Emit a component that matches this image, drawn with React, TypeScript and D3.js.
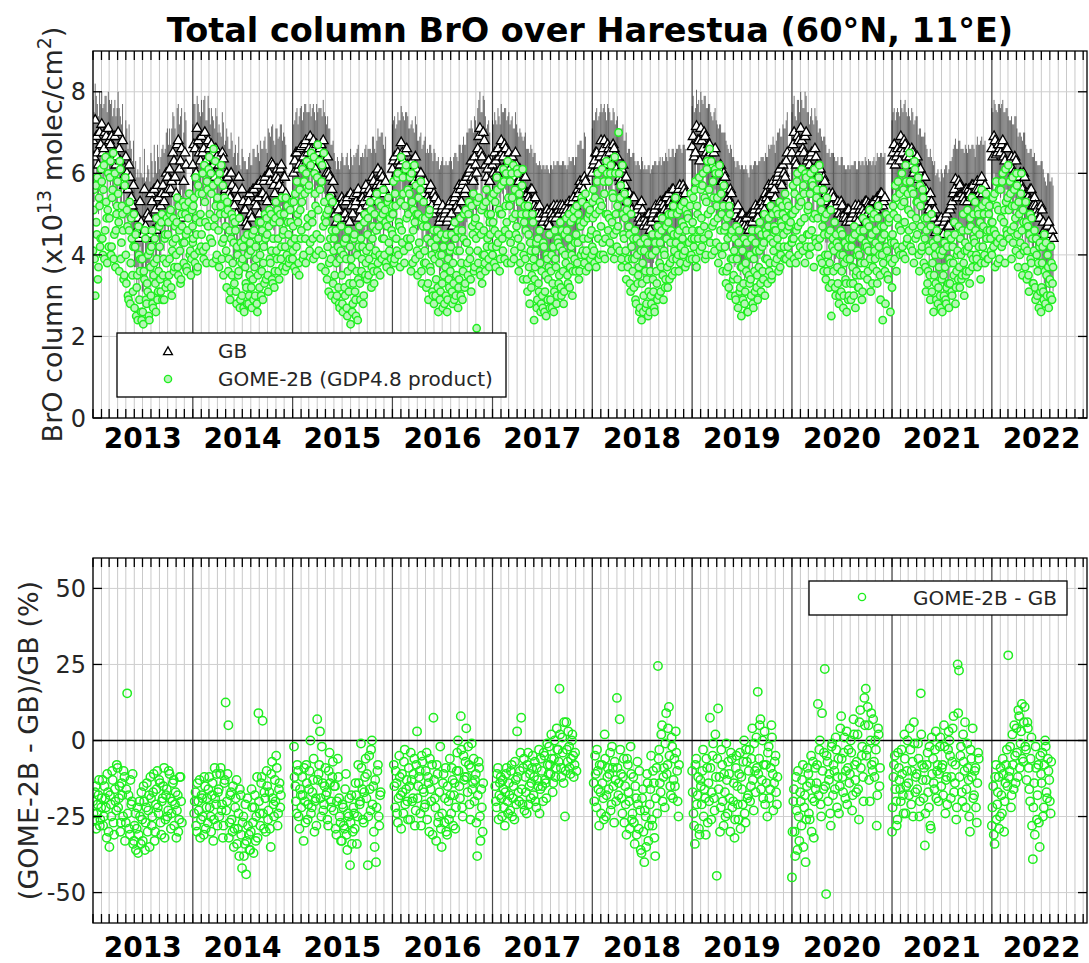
import React from 'react';
import * as d3 from 'd3';

// ---------- data ----------
const YEARS = [2013, 2014, 2015, 2016, 2017, 2018, 2019, 2020, 2021, 2022];
const X_START = new Date(2013, 0, 1);
const X_END = new Date(2022, 11, 15);
const TOP_Y_TICKS = [0, 2, 4, 6, 8];
const BOT_Y_TICKS = [-50, -25, 0, 25, 50];
const TITLE = 'Total column BrO over Harestua (60°N, 11°E)';

// GOME-2B total column (1e13 molec/cm2). Two interleaved passes per year:
// pass A every 4 days from 1 Jan, pass B every 4 days from 3 Jan.
const GOME_STEP_DAYS = 4;
const gome2013 = [4.1,5.6,3.0,4.8,5.9,3.7,5.2,4.4, 5.8,4.0,6.2,4.6,5.3,3.8,6.0, 4.9,6.3,4.2,5.6,3.9,6.0,4.6,5.2, 5.5,3.6,6.1,4.3,5.0,3.4,5.7, 4.0,5.1,3.0,4.6,2.8,4.9,3.5,4.2, 2.7,4.5,3.2,2.4,4.0,3.6,2.6, 3.9,2.3,3.4,4.4,2.8,3.1,2.5,4.1, 3.0,4.6,2.7,3.8,3.3,4.9,2.9,3.6, 4.2,3.1,5.0,3.5,2.9,4.5,3.8, 3.3,4.8,3.9,5.1,3.0,4.3,3.6,4.7, 4.0,5.4,3.5,4.6,3.3,5.0,4.3, 3.8,5.2,4.5,3.6,4.9,5.5,4.1,3.9,4.7];
const gome2014 = [4.3,5.4,3.8,4.9,3.6,5.7,4.1,5.0, 4.5,6.0,3.9,5.3,4.2,5.8,4.7, 6.4,4.4,5.5,3.8,6.6,4.9,5.2,4.0, 5.8,3.7,5.0,6.2,4.3,3.5,5.4, 4.7,3.2,5.1,3.9,2.9,4.4,3.5,4.9, 3.3,4.6,2.8,4.0,3.6,2.7,4.3, 3.0,4.2,2.6,3.7,3.2,4.5,2.8,3.5, 4.1,2.7,3.4,4.6,3.0,3.9,2.6,4.4, 3.2,4.8,3.6,2.9,4.2,5.0,3.4, 4.5,3.1,5.1,3.8,4.1,3.3,4.8,3.6, 5.3,3.9,4.4,3.4,5.0,4.2,3.7, 4.6,3.6,5.4,4.0,4.8,3.8,5.1,4.3,3.9];
const gome2015 = [3.9,5.3,4.4,3.6,5.8,4.8,3.5,5.1, 4.6,6.1,4.0,5.5,3.8,6.3,4.9, 5.7,4.3,6.5,4.8,3.9,6.0,5.2,4.5, 6.7,4.1,5.6,3.7,6.2,4.7,5.3, 3.6,5.0,4.2,3.1,5.4,3.9,4.6,3.3, 4.4,2.9,3.8,4.9,3.2,2.7,4.1, 3.5,2.6,4.3,3.0,3.9,2.5,4.6,3.3, 2.3,3.7,2.8,4.4,3.1,2.5,4.0,3.4, 4.7,2.9,3.6,4.2,3.0,5.0,3.8, 3.4,4.9,3.9,5.3,3.2,4.4,3.6,5.0, 4.1,5.5,3.8,4.7,3.5,5.2,4.4, 5.6,4.0,4.8,3.7,5.3,4.3,4.9,3.9,5.0];
const gome2016 = [4.5,5.8,3.9,5.2,4.1,6.0,4.8,3.7, 6.4,4.3,5.5,3.8,6.1,4.9,5.6, 4.2,5.9,3.6,5.3,4.6,6.2,3.9,5.0, 3.5,5.4,4.0,5.8,3.3,4.7,3.8, 4.9,3.2,4.4,2.9,5.1,3.6,4.0,3.0, 2.8,4.2,3.4,4.6,2.6,3.8,3.1, 4.0,2.7,3.5,4.4,3.0,2.6,3.9,3.2, 3.6,4.5,2.8,3.3,4.8,3.0,4.1,2.7, 3.4,4.9,3.8,2.9,4.4,3.2,5.1, 4.3,3.5,5.3,3.9,3.1,4.7,5.5,3.7, 4.9,2.2,4.1,5.4,3.6,4.5,3.3, 5.2,4.0,3.6,5.6,4.4,3.9,4.8,5.0,4.2];
const gome2017 = [4.0,5.5,4.6,3.7,5.9,4.3,5.1,3.9, 5.7,4.4,6.1,3.9,5.2,4.8,6.3, 4.5,5.8,3.8,5.4,6.2,4.1,5.0,4.7, 6.0,3.6,5.3,4.2,5.7,3.4,4.8, 3.9,5.0,3.1,4.5,2.8,4.1,3.5,4.8, 2.4,3.7,4.3,2.9,3.3,4.6,2.6, 3.6,2.7,4.2,3.1,2.5,3.9,3.4,4.5, 2.9,4.0,3.3,2.6,4.6,3.7,3.0,4.3, 3.5,4.8,3.0,4.1,2.8,4.5,3.8, 4.6,3.3,5.0,3.7,4.2,3.0,4.9,3.9, 3.6,5.2,4.3,3.4,4.8,4.0,5.3, 4.4,3.8,5.5,4.1,4.9,3.7,5.1,4.5,4.0];
const gome2018 = [4.2,5.6,3.8,5.0,4.5,6.0,3.9,5.3, 4.7,6.1,4.0,5.5,4.4,6.3,5.0, 5.8,4.3,6.2,4.8,5.4,3.9,6.0,4.6, 5.2,7.0,4.1,5.7,3.7,5.0,4.4, 4.9,3.4,5.3,3.9,4.5,3.1,4.2,3.6, 3.2,4.6,2.8,4.0,3.5,2.6,4.3, 2.4,3.8,3.0,4.4,2.7,3.4,2.5,4.0, 3.6,2.8,4.5,3.1,2.6,4.1,3.3,4.7, 3.0,4.3,3.7,4.9,2.9,4.0,3.4, 4.4,3.2,5.0,3.8,4.6,3.5,5.2,4.1, 5.4,3.9,4.5,3.6,5.1,4.2,4.8, 4.0,5.3,3.7,4.6,5.0,4.3,3.9,5.5,4.4];
const gome2019 = [3.9,5.4,4.4,5.8,3.7,5.0,4.6,4.1, 5.6,4.2,6.0,4.7,3.9,5.3,6.3, 4.5,6.6,5.1,4.0,5.8,4.8,6.1,4.3, 5.4,3.8,6.2,4.6,5.0,3.6,5.7, 4.2,3.3,4.9,3.7,5.2,3.0,4.5,3.9, 3.5,4.4,2.9,3.9,2.7,4.6,3.2, 2.5,4.1,3.3,2.8,3.8,4.3,2.6,3.5, 4.0,3.0,4.6,2.7,3.6,4.3,3.2,2.9, 3.7,4.8,3.1,4.2,3.4,5.0,3.9, 4.5,3.3,4.9,3.8,5.2,3.5,4.3,4.7, 3.8,5.1,4.4,3.6,5.3,4.0,4.7, 5.0,4.2,5.5,3.9,4.6,5.2,4.0,4.8,4.3];
const gome2020 = [4.3,5.7,3.9,5.1,4.6,6.0,4.0,5.4, 4.8,6.1,4.1,5.5,3.8,5.9,4.5, 5.2,4.0,6.0,4.6,5.7,3.7,5.0,4.3, 5.6,4.2,6.2,3.9,5.1,4.7,3.6, 4.9,3.4,5.4,4.0,3.2,4.6,2.5,4.2, 3.6,4.8,3.0,4.3,3.3,2.8,4.0, 3.1,4.5,2.7,3.8,3.4,2.6,4.2,3.0, 3.9,2.9,4.4,3.3,4.7,2.7,3.6,4.1, 3.2,4.6,3.8,2.9,4.9,3.5,4.2, 4.8,3.4,4.1,5.1,3.1,4.5,3.7,5.0, 3.9,4.6,3.3,5.2,4.0,2.9,4.4, 2.4,4.7,3.6,5.0,4.1,3.4,4.9,2.6,4.3];
const gome2021 = [3.8,5.2,4.3,5.7,3.6,4.9,4.1,5.5, 4.6,6.0,4.0,5.3,3.9,5.8,4.4, 5.1,6.5,4.2,5.6,4.7,3.8,6.1,4.9, 4.5,5.9,3.6,5.2,4.1,5.6,3.8, 4.4,3.1,4.9,3.6,4.1,2.9,5.0,3.8, 2.6,4.2,3.3,4.6,2.8,3.7,3.0, 4.0,2.6,3.5,4.3,2.9,3.2,4.5,2.7, 3.3,4.4,3.0,3.8,4.8,2.8,3.6,4.1, 4.7,3.2,4.0,3.5,5.0,3.0,4.3, 3.6,5.1,4.2,3.3,4.7,5.4,3.9,4.4, 5.3,4.0,3.7,5.0,4.5,3.4,5.6, 4.2,5.0,3.8,5.5,4.6,3.9,5.2,4.4,4.8];
const gome2022 = [4.0,5.4,4.6,3.7,5.8,4.3,5.1,3.9, 5.6,4.2,6.0,4.8,3.8,5.3,4.5, 6.2,4.4,5.5,3.9,5.9,4.7,5.2,4.1, 5.7,3.7,5.0,4.3,6.0,3.5,4.8, 4.2,5.3,3.4,4.7,3.1,5.0,3.8,4.4, 3.3,4.6,2.9,4.0,3.6,2.7,4.3, 2.6,3.8,3.1,4.5,2.8,3.5,4.0,2.7, 3.4,4.2,2.9,3.7];
const gome2013b = [5.1,3.9,5.7,4.5,3.4,5.4,4.2,6.1, 4.4,5.6,3.9,6.4,4.9,5.1,4.2, 5.9,4.0,5.4,6.5,4.5,3.7,5.0,5.8, 4.8,6.3,3.9,5.2,4.6,3.5,5.9, 3.3,4.7,2.9,5.3,3.8,4.4,3.1,5.0, 4.2,2.5,3.5,4.7,2.9,3.9,2.4, 2.6,3.6,4.6,2.9,3.3,4.0,2.4,3.7, 4.2,2.8,3.5,4.4,2.6,3.9,3.1,4.7, 3.4,4.8,2.9,3.9,4.4,3.2,4.9, 4.5,3.5,5.0,3.2,4.1,4.9,3.7,4.4, 4.8,3.7,5.2,4.1,3.4,4.7,5.3, 4.3,5.0,3.7,4.6,5.3,4.0,3.5,5.1,4.4];
const gome2014b = [5.2,4.0,5.9,4.5,3.7,5.5,4.8,4.2, 5.5,4.1,6.2,4.8,3.8,5.6,6.1, 5.0,6.0,4.3,5.7,4.7,6.3,3.9,5.4, 4.6,6.0,5.2,3.9,5.7,4.4,5.0, 4.1,5.3,3.6,4.6,3.1,5.0,3.8,4.3, 4.8,3.1,4.2,3.5,4.9,2.9,3.8, 3.9,2.7,4.4,3.3,2.8,4.0,3.0,4.3, 3.2,4.5,2.9,3.7,4.2,2.8,3.5,4.8, 4.0,3.0,4.6,3.8,3.3,4.4,4.9, 3.5,4.7,3.9,5.0,3.4,4.4,3.2,4.9, 4.1,5.1,3.6,4.8,3.9,5.4,4.5, 5.0,4.2,3.7,5.2,4.5,3.9,4.8,5.3,4.1];
const gome2015b = [4.7,3.7,5.5,4.2,5.0,3.8,5.6,4.4, 5.3,3.9,5.8,4.4,6.0,4.7,5.6, 4.1,6.2,5.0,4.4,6.4,5.5,4.0,5.9, 5.1,6.3,4.4,5.8,4.0,6.5,4.9, 4.8,3.4,5.1,3.8,4.4,3.0,5.3,4.1, 3.5,4.6,3.0,4.2,2.8,3.9,4.7, 2.8,4.0,3.2,4.4,2.7,3.6,3.1,4.2, 3.9,2.6,3.3,4.5,2.9,3.6,2.4,4.2, 3.3,4.4,3.9,2.8,4.8,3.5,4.1, 4.5,3.5,4.2,5.1,3.7,4.7,3.3,4.0, 4.6,3.6,5.3,4.0,4.9,3.9,5.0, 4.4,5.1,3.8,4.7,5.4,4.1,3.6,4.6,5.2];
const gome2016b = [5.0,3.8,5.5,4.4,5.9,4.0,4.7,5.3, 4.6,5.9,4.1,5.2,6.2,4.4,5.0, 5.5,4.4,6.0,3.8,5.1,4.8,5.7,4.1, 5.0,4.3,5.6,3.6,4.9,5.3,4.1, 3.8,4.7,3.3,5.0,3.7,4.3,3.1,4.6, 3.9,3.0,4.4,3.2,4.0,2.9,4.5, 3.3,4.2,2.8,3.7,4.5,2.9,3.4,4.1, 4.2,3.1,3.8,2.9,4.4,3.5,4.6,3.2, 4.1,3.0,4.6,3.6,5.0,3.3,4.3, 3.8,5.0,4.1,3.4,5.2,4.5,3.6,4.8, 4.4,5.3,3.8,4.7,3.5,5.1,4.0, 4.6,3.8,5.3,4.2,5.0,3.7,4.5,5.4,4.0];
const gome2017b = [4.8,3.8,5.3,4.2,5.6,4.5,3.6,5.0, 5.0,4.1,5.8,4.6,6.0,3.8,5.4, 5.2,4.3,6.0,4.9,3.9,5.6,4.5,6.1, 4.4,5.5,3.8,5.0,6.1,4.0,5.2, 4.6,3.4,5.2,3.7,4.3,3.2,5.0,3.9, 3.4,4.1,2.7,4.4,3.1,3.8,2.8, 3.0,4.3,2.6,3.5,4.0,2.9,3.7,2.7, 3.6,2.7,4.2,3.1,3.9,2.8,4.4,3.3, 4.2,3.2,4.6,3.6,3.1,4.0,4.9, 3.5,4.4,3.2,4.8,4.0,3.6,5.1,4.3, 4.5,3.8,5.0,3.6,4.7,5.4,4.1, 4.8,4.0,3.6,5.2,4.4,5.0,3.9,4.6,5.3];
const gome2018b = [4.9,4.1,5.4,3.7,5.8,4.4,5.1,4.0, 5.2,4.3,5.8,3.9,5.0,6.0,4.6, 4.9,6.0,4.1,5.5,4.5,6.4,5.0,4.2, 4.7,6.0,5.4,3.9,6.2,4.5,5.5, 4.1,5.1,3.7,4.7,3.3,5.0,3.9,4.4, 3.9,2.9,4.4,3.3,3.7,2.7,4.1, 3.3,2.6,4.1,3.6,2.8,4.3,3.1,2.6, 3.0,4.0,3.4,2.7,4.3,3.6,2.9,4.5, 3.8,3.1,4.6,3.5,4.1,3.2,4.7, 3.7,4.8,3.4,4.3,5.0,3.9,4.5,3.6, 4.3,5.0,4.0,4.6,3.8,5.2,4.4, 4.7,4.1,5.1,3.8,4.9,4.3,5.2,4.0,4.6];
const gome2019b = [4.8,4.2,5.6,3.9,5.2,4.4,5.9,4.6, 4.9,5.7,4.4,5.4,4.0,6.1,5.0, 5.6,4.3,6.3,4.7,5.4,4.1,6.0,5.2, 4.9,6.0,4.2,5.5,4.0,5.2,4.6, 4.7,3.6,4.4,3.2,5.0,3.9,4.6,3.4, 4.1,3.0,4.7,3.4,4.3,3.1,3.7, 3.7,2.9,4.4,3.1,3.6,2.6,4.0,3.3, 3.4,4.4,2.8,3.9,3.1,4.1,3.5,4.6, 4.1,3.3,4.5,3.6,4.3,3.0,4.6, 3.9,4.7,3.6,4.4,3.4,5.0,4.1,4.6, 4.6,3.9,5.0,4.2,3.7,4.8,5.2, 4.5,3.9,4.9,5.3,4.2,4.7,3.8,5.0,4.4];
const gome2020b = [5.0,4.4,5.5,3.8,5.8,4.7,5.2,4.2, 5.3,4.4,5.7,4.9,6.0,4.2,5.1, 4.5,5.5,4.2,5.8,4.9,6.1,4.4,5.4, 4.9,5.9,4.4,5.3,3.8,5.6,4.5, 4.0,5.0,3.6,4.5,3.8,5.1,3.3,4.4, 4.1,3.2,4.5,3.7,4.2,3.0,4.6, 3.6,4.0,3.0,4.3,3.3,3.9,2.9,4.4, 3.3,4.2,3.7,3.0,4.5,3.5,4.0,3.2, 4.0,3.5,4.4,3.1,4.6,3.8,4.3, 4.2,3.6,4.7,3.9,4.4,3.3,4.9,4.1, 4.3,3.6,4.9,4.2,3.5,4.7,4.0, 3.8,4.5,2.8,4.2,3.5,4.8,3.9,4.4,3.2];
const gome2021b = [4.5,5.0,3.9,5.4,4.2,5.8,4.7,4.0, 5.2,4.2,5.6,4.8,6.2,4.3,5.5, 4.6,5.8,5.0,4.1,5.5,6.3,4.4,5.3, 5.3,4.0,5.7,4.7,4.2,5.4,4.9, 3.7,4.6,3.3,4.2,3.5,4.7,3.1,4.3, 3.5,4.0,2.9,4.4,3.2,4.1,2.7, 3.4,4.1,3.0,3.7,2.8,4.2,3.3,3.9, 3.8,3.1,4.2,3.5,4.5,3.2,4.0,3.4, 3.7,4.4,3.4,4.6,3.8,4.1,3.5, 4.1,4.6,3.6,4.9,4.0,3.7,5.0,4.3, 4.6,3.9,5.1,4.2,4.8,3.8,5.2, 4.7,4.0,5.3,4.4,3.9,5.0,4.6,4.1,5.4];
const gome2022b = [4.8,4.2,5.5,4.5,5.2,3.8,5.6,4.4, 4.9,5.8,4.3,5.1,6.1,4.6,5.4, 5.1,5.8,4.6,5.2,4.3,5.6,4.9,6.0, 4.5,5.3,4.0,5.5,4.6,5.1,4.1, 3.7,4.8,4.1,3.5,4.5,3.9,4.9,3.3, 4.1,3.2,4.4,3.0,3.8,4.2,3.1, 3.2,4.2,2.9,3.6,4.3,3.0,3.7,3.3, 3.0,3.8,3.3];
const GOME_A = [gome2013, gome2014, gome2015, gome2016, gome2017, gome2018, gome2019, gome2020, gome2021, gome2022];
const GOME_B = [gome2013b, gome2014b, gome2015b, gome2016b, gome2017b, gome2018b, gome2019b, gome2020b, gome2021b, gome2022b];

// Ground-based (GB) total column [value, error]; pass A every 8 days from 1 Jan, pass B from 5 Jan
const GB_STEP_DAYS = 8;
const gb2013 = [[6.8,1.0],[7.3,0.9],[6.5,1.2],[7.0,1.0],[7.2,0.8],[6.6,1.1],[6.9,1.0],[7.1,0.9],[6.7,1.0],[6.3,1.1],[6.9,0.9],[6.4,1.2],[6.6,1.0],[6.1,1.1],[5.9,1.0],[6.4,0.9],[5.6,1.0],[5.9,0.9],[5.2,1.1],[4.9,1.2],[4.6,1.3],[4.4,1.5],[4.8,1.2],[4.5,1.4],[4.7,1.1],[5.0,1.2],[4.5,1.3],[5.3,1.0],[5.6,1.1],[4.6,1.4],[5.4,1.0],[5.2,1.2],[5.7,1.0],[5.5,1.1],[5.9,1.2],[6.1,1.0],[5.8,1.3],[6.3,1.1],[5.5,1.2],[6.8,0.9],[6.3,1.1],[4.9,1.3],[6.5,1.0],null,null,null];
const gb2014 = [[6.2,1.0],[6.6,1.1],[7.1,0.8],[6.5,1.0],[6.9,0.9],[6.6,1.2],[6.3,1.0],[6.8,1.1],[6.1,1.1],[6.5,0.9],[5.9,1.2],[6.4,1.0],[6.2,1.0],[5.8,1.1],[6.35,0.9],[5.6,1.2],[5.9,1.0],[5.4,1.2],[5.7,1.1],[5.2,1.3],[5.0,1.2],[5.9,1.0],[4.8,1.3],[5.3,1.1],[5.1,1.2],[4.7,1.4],[5.5,1.0],[4.9,1.3],[5.6,1.0],[5.2,1.2],[5.4,1.1],[5.8,1.0],[5.5,1.1],[5.9,1.0],[5.3,1.2],[6.0,1.0],[6.25,0.9],[5.7,1.1],[5.9,1.2],[5.85,1.0],[6.1,1.1],[5.6,1.2],[5.9,1.0],null,null,null];
const gb2015 = [null,[6.3,1.0],[6.5,1.1],[6.2,1.2],[6.65,1.0],[6.4,1.1],[6.8,0.9],[6.5,1.0],[6.9,0.8],[6.6,1.0],[6.3,1.2],[6.7,1.0],[6.5,1.1],[6.7,0.9],[6.8,1.0],[6.2,1.2],[6.4,1.0],[5.9,1.2],[5.6,1.1],[5.3,1.2],[4.8,1.3],[5.1,1.2],[4.9,1.4],[5.3,1.1],[5.0,1.2],[5.4,1.1],[4.8,1.3],[5.2,1.2],[5.45,1.0],[5.3,1.2],[5.6,1.1],[5.1,1.3],[5.4,1.1],[5.6,1.0],[5.2,1.2],[5.6,1.0],[5.3,1.2],[5.8,1.1],[5.5,1.0],[6.1,1.0],[5.7,1.2],[5.9,1.1],[5.6,1.0],null,null,null];
const gb2016 = [[6.1,1.1],[6.4,1.0],[6.0,1.2],[6.3,1.0],[6.75,0.9],[6.3,1.1],[6.5,1.0],[6.2,1.2],[6.0,1.1],[6.3,1.0],[5.8,1.2],[6.1,1.1],[5.7,1.1],[6.0,1.0],[5.5,1.2],[5.8,1.1],[5.4,1.2],[5.6,1.1],[5.2,1.3],[5.5,1.1],[5.1,1.2],[5.3,1.1],[4.9,1.3],[5.2,1.2],[5.0,1.2],[4.8,1.4],[5.2,1.1],[5.0,1.3],[5.3,1.1],[5.5,1.0],[5.1,1.2],[5.6,1.1],[5.7,1.0],[5.5,1.2],[5.9,1.1],[6.0,1.1],[6.3,1.0],[5.8,1.2],[6.2,1.1],[6.6,1.0],[7.1,0.9],[6.4,1.1],[6.8,1.0],[5.9,1.2],[6.3,1.0],null];
const gb2017 = [[6.2,1.1],[6.5,1.0],[6.0,1.2],[6.4,1.0],[6.8,0.9],[6.4,1.1],[6.6,1.0],[6.3,1.1],[6.1,1.1],[6.4,1.0],[5.9,1.2],[6.2,1.0],[5.8,1.1],[6.0,1.0],[5.6,1.2],[5.9,1.1],[5.5,1.1],[5.3,1.2],[5.6,1.0],[5.2,1.3],[5.15,1.1],[4.9,1.3],[5.0,1.2],[4.8,1.4],[4.9,1.2],[5.1,1.1],[4.7,1.3],[5.0,1.2],[5.2,1.1],[4.9,1.3],[5.1,1.2],[5.2,1.0],[5.2,1.1],[5.0,1.2],[5.1,1.0],[5.3,1.1],[5.0,1.3],[5.4,1.0],[5.2,1.2],[5.6,1.1],[5.8,1.0],[5.4,1.2],[5.9,1.1],null,null,null];
const gb2018 = [[6.0,1.1],[6.3,1.0],[6.5,1.1],[6.2,1.2],[6.8,0.9],[6.6,1.0],[6.4,1.1],[6.7,1.0],[6.5,1.0],[6.2,1.1],[6.6,0.9],[6.1,1.2],[6.0,1.1],[5.8,1.2],[6.2,1.0],[5.7,1.1],[5.3,1.2],[5.5,1.1],[5.1,1.3],[5.4,1.1],[5.0,1.2],[5.2,1.1],[4.8,1.3],[5.1,1.2],[4.9,1.3],[4.7,1.4],[5.0,1.2],[4.8,1.3],[5.0,1.2],[5.2,1.1],[4.9,1.3],[5.3,1.1],[5.3,1.1],[5.1,1.2],[5.4,1.0],[5.5,1.1],[5.2,1.2],[5.6,1.0],[5.4,1.1],[5.5,1.1],[5.7,1.0],[5.3,1.2],[5.6,1.1],null,null,null];
const gb2019 = [[6.65,1.0],[6.4,1.1],[7.15,0.9],[6.8,1.0],[7.1,0.9],[6.6,1.1],[6.9,1.0],[6.4,1.2],[6.7,1.0],[6.3,1.1],[6.5,1.0],[6.1,1.2],[6.0,1.1],[6.2,1.0],[5.8,1.2],[5.9,1.1],[5.6,1.1],[5.3,1.2],[5.5,1.1],[5.1,1.3],[4.95,1.2],[5.2,1.1],[4.8,1.3],[5.0,1.2],[4.7,1.4],[4.9,1.2],[4.6,1.3],[5.0,1.2],[5.0,1.2],[5.2,1.1],[4.9,1.3],[5.1,1.2],[5.3,1.1],[5.1,1.2],[5.4,1.0],[5.7,1.0],[5.5,1.2],[5.8,1.1],[5.4,1.1],[5.9,1.1],[6.1,1.0],[5.7,1.2],[6.0,1.1],[6.3,1.0],null,null];
const gb2020 = [[6.5,1.0],[7.0,0.9],[6.2,1.1],[6.8,1.0],[7.1,0.9],[6.6,1.0],[6.9,1.1],[6.3,1.2],[6.2,1.0],[6.5,1.1],[6.0,1.2],[6.4,1.0],[5.9,1.1],[6.1,1.0],[5.6,1.2],[5.8,1.1],[5.3,1.2],[5.5,1.1],[5.2,1.3],[5.4,1.1],[5.1,1.2],[5.3,1.1],[4.9,1.3],[5.2,1.2],[5.0,1.2],[4.8,1.3],[5.1,1.1],[4.9,1.3],[5.0,1.2],[5.2,1.1],[4.8,1.3],[5.1,1.2],[5.2,1.1],[5.0,1.2],[5.3,1.0],[5.25,1.1],[5.1,1.2],[5.3,1.0],[5.0,1.2],[5.4,1.1],[5.2,1.2],[5.5,1.0],[5.3,1.1],null,null,null];
const gb2021 = [[6.3,1.0],[6.7,0.9],[6.4,1.1],[6.5,1.0],[6.9,0.9],[6.5,1.0],[6.7,1.1],[6.2,1.2],[6.4,1.0],[6.6,1.0],[6.0,1.2],[6.3,1.1],[5.85,1.1],[6.1,1.0],[5.7,1.2],[5.9,1.1],[5.4,1.2],[5.1,1.3],[5.3,1.1],[4.9,1.3],[4.55,1.4],[4.8,1.3],[4.6,1.2],[4.7,1.3],[4.8,1.3],[5.0,1.2],[4.7,1.4],[5.2,1.1],[5.5,1.1],[5.85,1.0],[5.4,1.2],[5.7,1.1],[5.5,1.1],[5.3,1.2],[5.6,1.0],[5.6,1.1],[5.4,1.2],[5.7,1.0],[5.3,1.1],[5.8,1.1],[5.5,1.2],[5.9,1.0],[5.6,1.1],null,null,null];
const gb2022 = [[6.6,1.0],[6.9,0.9],[6.45,1.1],[6.7,1.0],[6.5,1.1],[6.8,1.0],[6.3,1.2],[6.6,1.0],[6.2,1.1],[6.4,1.0],[6.0,1.2],[6.3,1.1],[5.8,1.1],[6.0,1.0],[5.6,1.2],[5.9,1.1],[5.5,1.1],[5.3,1.2],[5.6,1.0],[5.2,1.2],[5.2,1.1],[5.0,1.2],[4.9,1.3],[5.1,1.2],[4.6,1.3],[4.3,1.4],[4.8,1.2],[4.5,1.3],[4.4,1.3]];
const gb2013b = [[6.4,1.1],[6.9,1.0],[6.2,1.2],[6.7,1.0],[6.5,1.1],[7.0,0.9],[6.3,1.2],[6.8,1.0],[6.9,0.9],[6.5,1.1],[6.2,1.2],[7.0,1.0],[6.3,1.1],[6.8,0.9],[5.7,1.2],[6.0,1.1],[6.2,1.0],[5.4,1.2],[5.7,1.1],[5.0,1.3],[4.9,1.2],[5.3,1.1],[4.5,1.4],[5.6,1.0],[4.4,1.5],[4.9,1.2],[5.5,1.0],[4.6,1.3],[5.1,1.2],[5.7,1.0],[4.8,1.3],[5.5,1.1],[5.3,1.2],[6.0,1.0],[5.6,1.1],[5.6,1.1],[6.5,1.0],[5.9,1.2],[6.7,0.9],[6.1,1.1],[6.6,1.0],[5.8,1.2],[6.2,1.1],null,null,null];
const gb2014b = [[6.7,1.0],[6.0,1.2],[6.8,0.9],[6.3,1.1],[6.5,1.0],[7.0,0.9],[6.1,1.2],[6.6,1.0],[6.7,0.9],[6.2,1.1],[6.6,1.0],[5.8,1.2],[5.9,1.1],[6.5,1.0],[5.5,1.2],[6.0,1.1],[5.5,1.1],[6.0,1.0],[5.1,1.3],[5.6,1.1],[5.4,1.1],[4.9,1.3],[5.6,1.0],[5.1,1.2],[4.8,1.3],[5.3,1.1],[5.0,1.2],[5.6,1.0],[5.3,1.1],[5.7,1.0],[5.0,1.3],[5.5,1.1],[5.8,1.0],[5.4,1.2],[6.0,1.1],[5.8,1.1],[6.2,1.0],[5.5,1.2],[6.1,1.0],[5.7,1.2],[6.2,1.0],[5.9,1.1],[5.5,1.2],null,null,null];
const gb2015b = [[6.0,1.2],[6.5,1.0],[6.1,1.1],[6.6,1.0],[6.2,1.1],[6.7,1.0],[6.3,1.2],[6.6,0.9],[6.4,1.0],[6.8,0.9],[6.1,1.2],[6.5,1.0],[6.6,1.0],[6.3,1.1],[6.5,1.0],[6.0,1.2],[6.0,1.1],[5.5,1.2],[5.8,1.0],[5.0,1.3],[5.2,1.2],[4.7,1.4],[5.4,1.1],[5.0,1.2],[5.3,1.1],[4.9,1.3],[5.5,1.1],[5.0,1.2],[5.2,1.2],[5.5,1.1],[4.9,1.3],[5.4,1.0],[5.3,1.1],[5.7,1.0],[5.4,1.2],[5.5,1.1],[5.9,1.0],[5.4,1.2],[5.7,1.1],[5.8,1.1],[6.0,1.0],[5.5,1.2],[5.8,1.1],null,null,null];
const gb2016b = [[6.3,1.0],[5.9,1.2],[6.5,1.0],[6.2,1.1],[6.5,1.0],[6.1,1.2],[6.6,0.9],[6.0,1.1],[6.2,1.0],[5.9,1.2],[6.4,1.0],[5.7,1.1],[5.9,1.0],[5.4,1.2],[5.7,1.1],[5.3,1.2],[5.3,1.2],[5.7,1.0],[5.0,1.3],[5.4,1.1],[5.2,1.1],[4.8,1.3],[5.1,1.2],[4.9,1.3],[5.1,1.2],[4.9,1.3],[5.3,1.1],[4.7,1.4],[5.4,1.1],[5.2,1.2],[5.7,1.0],[5.3,1.2],[5.8,1.1],[5.6,1.1],[6.0,1.0],[6.1,1.0],[5.9,1.2],[6.4,1.0],[6.0,1.1],[6.9,0.9],[6.5,1.0],[7.0,0.9],[6.2,1.2],[6.1,1.1],[5.8,1.2],null];
const gb2017b = [[6.0,1.2],[6.3,1.0],[6.6,1.0],[6.1,1.1],[6.5,1.0],[6.7,0.9],[6.2,1.1],[6.5,1.0],[6.3,1.0],[6.0,1.1],[6.5,1.0],[5.8,1.2],[6.1,1.0],[5.7,1.2],[5.9,1.0],[5.5,1.1],[5.4,1.2],[5.6,1.1],[5.1,1.3],[5.4,1.1],[5.0,1.2],[5.2,1.1],[4.7,1.4],[5.0,1.2],[5.0,1.2],[4.8,1.3],[5.1,1.1],[4.9,1.2],[5.0,1.2],[5.2,1.1],[5.0,1.2],[5.1,1.1],[5.1,1.2],[5.2,1.0],[4.9,1.3],[5.1,1.2],[5.3,1.1],[5.0,1.2],[5.4,1.0],[5.5,1.2],[5.7,1.1],[5.6,1.0],[5.8,1.1],null,null,null];
const gb2018b = [[6.2,1.1],[6.5,1.0],[6.1,1.2],[6.4,1.1],[6.5,1.0],[6.8,0.9],[6.2,1.1],[6.6,1.0],[6.3,1.0],[6.7,0.9],[6.0,1.2],[6.4,1.0],[5.9,1.1],[6.1,1.0],[5.6,1.2],[5.9,1.1],[5.5,1.1],[5.2,1.2],[5.4,1.1],[5.0,1.3],[5.1,1.2],[4.9,1.3],[5.3,1.1],[4.7,1.4],[4.8,1.3],[5.0,1.2],[4.6,1.4],[4.9,1.3],[5.1,1.2],[4.9,1.3],[5.2,1.1],[5.0,1.2],[5.2,1.1],[5.4,1.1],[5.1,1.2],[5.3,1.1],[5.6,1.0],[5.2,1.2],[5.5,1.1],[5.6,1.1],[5.4,1.2],[5.7,1.0],[5.5,1.1],null,null,null];
const gb2019b = [[6.9,1.0],[6.5,1.1],[6.8,0.9],[6.3,1.2],[6.8,1.0],[7.0,0.9],[6.5,1.1],[6.7,1.0],[6.5,1.0],[6.2,1.1],[6.6,1.0],[6.0,1.2],[6.1,1.1],[5.8,1.2],[6.0,1.0],[5.6,1.2],[5.4,1.2],[5.6,1.1],[5.2,1.2],[5.0,1.3],[5.1,1.2],[4.9,1.3],[5.0,1.2],[4.8,1.3],[4.9,1.3],[4.7,1.3],[5.0,1.2],[4.8,1.3],[5.1,1.2],[4.9,1.3],[5.2,1.1],[5.3,1.1],[5.2,1.2],[5.5,1.0],[5.3,1.1],[5.5,1.1],[5.7,1.0],[5.6,1.1],[5.8,1.0],[6.0,1.0],[5.8,1.1],[6.2,1.0],[5.9,1.2],[6.5,1.0],null,null];
const gb2020b = [[6.7,1.0],[6.3,1.1],[6.9,0.9],[6.5,1.0],[6.8,1.0],[6.5,1.1],[7.0,0.9],[6.4,1.1],[6.4,1.0],[6.1,1.2],[6.6,1.0],[6.2,1.1],[6.0,1.1],[5.7,1.2],[5.9,1.0],[5.5,1.2],[5.4,1.1],[5.2,1.2],[5.5,1.0],[5.1,1.3],[5.2,1.1],[5.0,1.2],[5.3,1.1],[4.9,1.3],[4.9,1.2],[5.1,1.1],[4.8,1.3],[5.0,1.2],[5.1,1.2],[4.9,1.2],[5.2,1.1],[5.0,1.2],[5.1,1.2],[5.3,1.1],[5.0,1.2],[5.2,1.1],[5.0,1.2],[5.3,1.1],[5.1,1.2],[5.3,1.1],[5.5,1.0],[5.2,1.2],[5.4,1.1],null,null,null];
const gb2021b = [[6.5,1.0],[6.2,1.1],[6.6,1.0],[6.3,1.1],[6.6,1.0],[6.8,0.9],[6.4,1.1],[6.6,1.0],[6.2,1.1],[6.5,1.0],[6.1,1.2],[6.4,1.0],[6.0,1.1],[5.7,1.2],[5.9,1.0],[5.6,1.1],[5.2,1.2],[5.5,1.1],[5.0,1.3],[5.1,1.2],[4.7,1.3],[4.6,1.3],[4.9,1.2],[4.5,1.4],[4.9,1.3],[4.7,1.3],[5.1,1.2],[5.3,1.1],[5.6,1.1],[5.4,1.2],[5.8,1.0],[5.5,1.1],[5.4,1.2],[5.6,1.1],[5.3,1.2],[5.5,1.1],[5.7,1.0],[5.4,1.2],[5.6,1.1],[5.6,1.1],[5.8,1.0],[5.5,1.2],[5.7,1.1],null,null,null];
const gb2022b = [[6.4,1.1],[6.8,0.9],[6.5,1.0],[6.6,1.1],[6.7,1.0],[6.4,1.1],[6.6,1.0],[6.2,1.2],[6.3,1.0],[6.1,1.1],[6.4,1.0],[5.9,1.2],[5.9,1.1],[5.7,1.2],[6.0,1.0],[5.5,1.2],[5.4,1.1],[5.6,1.0],[5.2,1.2],[5.4,1.1],[5.1,1.2],[4.9,1.3],[5.2,1.1],[4.8,1.3],[4.5,1.3],[4.7,1.3],[4.4,1.4],[4.6,1.3]];
const GB_A = [gb2013, gb2014, gb2015, gb2016, gb2017, gb2018, gb2019, gb2020, gb2021, gb2022];
const GB_B = [gb2013b, gb2014b, gb2015b, gb2016b, gb2017b, gb2018b, gb2019b, gb2020b, gb2021b, gb2022b];

// Relative difference (GOME-2B - GB)/GB in %; pass A every 5 days from 1 Jan, pass B from 3 Jan
const DIFF_STEP_DAYS = 5;
const diff2013 = [-20,-26,-15,-24,-18,-28,-22, -13,-25,-19,-32,-17, -35,-21,-10,-27,-16,-23, -9,-19,-30,-14,-25,-12, -27,15.5,-18,-31,-21,-11, -33,-24,-29,-37,-20,-34, -26,-15,-36,-22,-30,-18, -12,-28,-17,-33,-21,-10, -24,-14,-31,-19,-9,-26, -16,-23,-11,-29,-20,-13, -21,-32,-18,-26,-12,-27];
const diff2014 = [null,-24,-17,-30,-20,-13,-26, -19,-31,-15,-22,-27, -12,-25,-18,-33,-9,-21, -28,-16,-11,-23,-32,-14, 12.5,-20,5,-27,-17,-30, -35,-22,-13,-29,-38,-18, -42,-25,-34,-44,-19,-31, -36,-16,-27,-22,-33,-12, 9,-24,-14,6.5,-29,-19, -10,-26,-17,-35,-7,-21, -13,-5,-28,-16,-22];
const diff2015 = [null,-2,-15,-24,-10,-29,-18, -12,-33,-20,-8,-26, -16,0,-22,-13,-30,-19, 7,-11,3,-25,-14,-21, -9,-17,-28,-4,-20,-12, -23,-15,-31,-6,-19,-27, -33,-22,-29,-11,-36,-25, -41,-18,-30,-24,-14,-34, -8,-21,-1,-16,-27,-12, -19,-41,-5,-23,0,-15, -35,-40,-10,-25,-18];
const diff2016 = [null,-8,-22,-14,-27,-5,-18, -11,-24,-3,-16,-20, -9,-26,-13,-19,-6,-23, 3,-15,-10,-28,-7,-17, -21,-4,-12,-30,-16,-8, 7.5,-19,-33,-11,-25,-2, -35,-14,-27,-9,-31,-20, -6,-24,-13,-18,-29,-10, 0,-15,8,-22,-5,-12, 4,-17,-8,-26,-1,-14, -20,-11,-38,-7,-25,-16, -30];
const diff2017 = [null,null,-15,-22,-9,-18,-12, -25,-16,-28,-11,-20, -14,-23,-8,-19,-26,-13, 3,-17,-10,7.5,-21,-6, -12,-24,-4,-15,-19,-9, -18,-7,-22,-13,-3,-16, -10,-20,-5,-14,-1,-11, -8,2,-17,-6,-12,4, -3,17,-9,1,-14,-25, 6,-7,-2,-11,0,-5, -8];
const diff2018 = [null,-14,-5,-22,-10,-28,-17, -8,-19,2,-25,-12, -16,-4,-21,-9,-27,-13, 14,-18,7,-11,-24,-6, -15,-31,-8,-20,-2,-26, -12,-34,-19,-7,-29,-23, -37,-16,-40,-25,-11,-33, -21,-5,-28,-14,-38,-9, 24.5,-3,-17,5,-12,-22, 9,-8,11,-15,1,-19, -6,3,-10,-25];
const diff2019 = [-10,-24,-34,-6,-18,-29,-13, -21,-3,-16,-31,-9, -14,7.5,-26,-5,-19,2, -44.5,10.5,-12,-22,-8,-28, -17,-1,-24,-11,-30,-6, -20,-32,-9,-15,-26,-4, -12,-21,0,-27,-7,-18, -3,-15,4,-23,-10,1, 16,-6,7,-13,-19,3, -8,-25,-2,-16,5,-11, -14,-5,-21];
const diff2020 = [-45,-20,-30,-12,-36,-25,-17, -28,-8,-22,-40,-15, -11,-26,-5,-19,-32,-9, -14,12,-3,-21,9,-16, 23.5,-50.5,-7,-13,-24,-2, -18,-10,1,-22,-6,-15, 8,-12,-4,-19,3,-9, -14,0,-23,7,-8,-17, 2,-26,10,-5,-12,14, 17,-3,5,-20,9,-10, -7,0,-28,4,-15];
const diff2021 = [-30,-12,-5,-20,-26,-9,-16, -3,-18,2,-24,-10, -14,4,-21,-7,6,-17, -11,-1,-25,15.5,-8,-19, -34.5,-13,-4,-22,-28,1, -6,-16,3,-10,-20,-2, -15,-8,5,-24,-12,-3, 0,-19,-7,8,-14,-26, 25,23,-5,-17,2,-10, -22,-1,-13,-30,-6,4, -18,-9,-27,-4];
const diff2022 = [-28,-15,-34,-8,-21,-12,-25, -18,-6,-30,-14,-3, 28,-10,-22,2,-16,-5, 4,-12,8,-1,12,-7, 11,-3,6,-9,-20,1, -39,-14,-2,-26,-8,-35, -11,-4,-22,0,-17,-6, -13,-24];
const diff2013b = [-24,-17,-29,-21,-13,-26,-19, -28,-15,-22,-11,-30, -18,-25,-13,-31,-20,-8, -22,-15,-27,-18,-10,-33, -16,-24,-29,-13,-20,-34, -28,-36,-22,-31,-25,-17, -33,-20,-27,-14,-23,-35, -19,-25,-11,-30,-16,-22, -13,-27,-20,-15,-32,-18, -25,-10,-19,-24,-14,-28, -17,-23,-30,-12,-20];
const diff2014b = [null,-20,-28,-14,-23,-32,-18, -25,-12,-29,-19,-16, -22,-30,-14,-26,-19,-11, -17,-25,-9,-21,-28,-13, -23,-11,-32,-18,-26,-15, -29,-19,-34,-24,-16,-31, -27,-38,-21,-33,-28,-36, -30,-22,-37,-18,-25,-32, -20,-28,-12,-24,-17,-30, -15,-23,-29,-11,-19,-25, -20,-9,-24,-14,-18];
const diff2015b = [null,-12,-20,-8,-25,-16,-22, -18,-9,-27,-14,-21, -10,-24,-17,-6,-20,-28, -13,-8,-19,-2,-23,-15, -18,-26,-10,-14,-22,-7, -15,-29,-20,-12,-25,-33, -21,-28,-16,-31,-24,-19, -27,-34,-22,-29,-18,-25, -14,-20,-9,-26,-17,-6, -11,-25,-16,-3,-21,-30, -13,-22,-8,-28,-17];
const diff2016b = [null,-15,-10,-24,-19,-12,-29, -17,-7,-21,-13,-26, -15,-4,-20,-11,-28,-8, -19,-12,-24,-5,-16,-22, -10,-26,-14,-6,-20,-31, -13,-22,-8,-27,-17,-29, -24,-11,-19,-30,-15,-26, -18,-9,-28,-14,-22,-4, -10,-19,-3,-25,-13,-7, -12,-2,-21,-9,-16,-6, -13,-27,-18,-9,-33,-22, -14];
const diff2017b = [null,null,-20,-11,-26,-14,-19, -13,-22,-17,-9,-24, -18,-10,-25,-15,-7,-21, -12,-20,-4,-16,-9,-23, -17,-8,-21,-11,-14,-5, -12,-20,-9,-15,-24,-6, -15,-4,-13,-19,-8,-2, -11,-6,-14,0,-9,-3, -7,2,-12,-4,6,-10, -3,3,-9,-6,2,-12, -4,-10];
const diff2018b = [null,-20,-11,-3,-16,-8,-24, -14,-26,-6,-18,-9, -11,-23,-2,-15,-7,-20, -9,-14,-3,-19,-12,-27, -21,-6,-17,-29,-11,-24, -27,-15,-31,-21,-10,-36, -19,-30,-23,-35,-14,-28, -16,-26,-10,-32,-19,-24, -6,-14,2,-20,-9,-1, -11,4,-5,-18,-2,-13, -15,-4,-20,-8];
const diff2019b = [-17,-28,-8,-21,-12,-31,-15, -10,-25,-19,-6,-27, -20,-9,-17,-1,-23,-12, -6,-16,-30,-3,-20,-11, -25,-13,-7,-19,-4,-22, -14,-26,-5,-21,-11,-29, -16,-7,-24,-3,-19,-10, -20,-6,-13,-1,-17,-9, -11,5,-16,0,-8,-21, -14,-4,-19,-9,1,-23, -7,-17,-12];
const diff2020b = [-30,-16,-38,-23,-10,-33,-20, -13,-35,-18,-26,-9, -24,-14,-30,-7,-20,-16, -8,-18,0,-25,-10,-4, -15,-5,-20,-11,-28,-1, -8,-16,-3,-12,-24,4, -6,-17,1,-10,-21,-3, -11,-4,-18,2,-13,-7, -16,6,-9,-2,-20,5, -5,11,-13,0,-8,7, -12,-3,-18,2,-9];
const diff2021b = [-22,-8,-16,-28,-4,-13,-20, -11,-24,-6,-15,0, -18,-3,-10,-25,-1,-12, -16,-6,-20,2,-13,-9, -24,-8,-17,-2,-29,-11, -14,-3,-19,-8,-11,1, -9,-18,-2,-13,-21,3, -5,-12,4,-17,-8,-22, 9,-12,-2,-20,-7,6, -16,-9,-25,-3,-12,-19, -10,-22,-14,-6];
const diff2022b = [-22,-31,-12,-26,-17,-29,-9, -24,-11,-20,-8,-15, -12,-2,-18,-8,5,-14, -4,10,-9,3,-6,6, -2,-13,4,-16,-6,-28, -22,-31,-9,-18,-27,-5, -14,-25,-8,-2,-19,-10, -20,-7];
const DIFF_A = [diff2013, diff2014, diff2015, diff2016, diff2017, diff2018, diff2019, diff2020, diff2021, diff2022];
const DIFF_B = [diff2013b, diff2014b, diff2015b, diff2016b, diff2017b, diff2018b, diff2019b, diff2020b, diff2021b, diff2022b];

// ---------- layout ----------
const W = 1089, H = 963;
const L = 93, R = 1087;
const TOP = { t: 51, b: 418 };
const BOT = { t: 558, b: 923 };
const FONT = 'DejaVu Sans, Verdana, sans-serif';
const GREEN = '#1fee1f';
const GREEN_FILL = '#b8f5b8';
const TXT = '#262626';

const x = d3.scaleTime().domain([X_START, X_END]).range([L, R]);
const yTop = d3.scaleLinear().domain([0, 9]).range([TOP.b, TOP.t]);
const yBot = d3.scaleLinear().domain([-60, 60]).range([BOT.b, BOT.t]);

function series(byYear: any[], step: number, offsetDays: number) {
  const out: { d: Date; v: any }[] = [];
  byYear.forEach((arr, k) => {
    const y0 = new Date(YEARS[k], 0, 1);
    arr.forEach((v: any, i: number) => {
      if (v !== null && v !== undefined) out.push({ d: d3.timeDay.offset(y0, offsetDays + i * step), v });
    });
  });
  return out;
}

const gomePts = [...series(GOME_A, GOME_STEP_DAYS, 0), ...series(GOME_B, GOME_STEP_DAYS, 2)]
  .sort((a, b) => +a.d - +b.d);
const gbPts = [...series(GB_A, GB_STEP_DAYS, 0), ...series(GB_B, GB_STEP_DAYS, 4)]
  .sort((a, b) => +a.d - +b.d);
const diffPts = [...series(DIFF_A, DIFF_STEP_DAYS, 0), ...series(DIFF_B, DIFF_STEP_DAYS, 2)]
  .sort((a, b) => +a.d - +b.d);

const months = d3.timeMonth.range(X_START, X_END);
const yearLines = d3.timeYear.range(new Date(2013, 0, 2), X_END);
const triPath = d3.symbol(d3.symbolTriangle, 42)() as string;
const triLegend = d3.symbol(d3.symbolTriangle, 34)() as string;

function Frame({ yScale, box, ticks, zeroLine }: any) {
  return (
    <g>
      {months.map((m, i) => (
        <line key={'m' + i} x1={x(m)} x2={x(m)} y1={box.t} y2={box.b} stroke="#c9c9c9" strokeWidth={1} />
      ))}
      {ticks.map((t: number) => (
        <line key={'h' + t} x1={L} x2={R} y1={yScale(t)} y2={yScale(t)} stroke="#cfcfcf" strokeWidth={1} />
      ))}
      {yearLines.map((m, i) => (
        <line key={'y' + i} x1={x(m)} x2={x(m)} y1={box.t} y2={box.b} stroke="#4a4a4a" strokeWidth={1.2} />
      ))}
      {zeroLine && <line x1={L} x2={R} y1={yScale(0)} y2={yScale(0)} stroke="#000" strokeWidth={1.6} />}
    </g>
  );
}

function Axes({ yScale, box, ticks, yearBaseline }: any) {
  return (
    <g>
      <rect x={L} y={box.t} width={R - L} height={box.b - box.t} fill="none" stroke="#000" strokeWidth={1.3} />
      {months.map((m, i) => (
        <g key={'t' + i}>
          <line x1={x(m)} x2={x(m)} y1={box.t} y2={box.t + 9} stroke="#000" strokeWidth={1.3} />
          <line x1={x(m)} x2={x(m)} y1={box.b} y2={box.b - 9} stroke="#000" strokeWidth={1.3} />
        </g>
      ))}
      {ticks.map((t: number) => (
        <g key={'yt' + t}>
          <line x1={L} x2={L + 9} y1={yScale(t)} y2={yScale(t)} stroke="#000" strokeWidth={1.3} />
          <line x1={R} x2={R - 9} y1={yScale(t)} y2={yScale(t)} stroke="#000" strokeWidth={1.3} />
          <text x={86} y={yScale(t)} dy="0.36em" textAnchor="end" fontSize={24} fill={TXT} fontFamily={FONT}>
            {t}
          </text>
        </g>
      ))}
      {YEARS.map((yr) => (
        <text key={'yl' + yr} x={x(new Date(yr, 6, 2))} y={yearBaseline} textAnchor="middle" fontSize={28}
          fontWeight="bold" fill="#000" fontFamily={FONT}>
          {yr}
        </text>
      ))}
    </g>
  );
}

export default function App() {
  return (
    <svg width={W} height={H} style={{ position: 'absolute', left: 0, top: 0, background: '#fff' }}
      fontFamily={FONT}>
      <defs>
        <clipPath id="clipTop"><rect x={L} y={TOP.t} width={R - L} height={TOP.b - TOP.t} /></clipPath>
        <clipPath id="clipBot"><rect x={L} y={BOT.t} width={R - L} height={BOT.b - BOT.t} /></clipPath>
      </defs>
      <rect x={0} y={0} width={W} height={H} fill="#fff" />

      {/* title */}
      <text x={(L + R) / 2} y={42} textAnchor="middle" fontSize={33.5} fontWeight="bold" fill="#000">{TITLE}</text>

      {/* ---------- top panel ---------- */}
      <Frame yScale={yTop} box={TOP} ticks={TOP_Y_TICKS} zeroLine={false} />
      <g clipPath="url(#clipTop)">
        {gbPts.map((p, i) => (
          <line key={'e' + i} x1={x(p.d)} x2={x(p.d)} y1={yTop(p.v[0] - p.v[1])} y2={yTop(p.v[0] + p.v[1])}
            stroke="#000" strokeWidth={0.8} strokeOpacity={0.7} />
        ))}
        {gbPts.map((p, i) => (
          <path key={'g' + i} d={triPath} transform={`translate(${x(p.d)},${yTop(p.v[0])})`}
            fill="#fff" stroke="#000" strokeWidth={1.3} />
        ))}
        {gomePts.map((p, i) => (
          <circle key={'c' + i} cx={x(p.d)} cy={yTop(p.v)} r={3.7} fill={GREEN_FILL} stroke={GREEN} strokeWidth={1.5} />
        ))}
      </g>
      <Axes yScale={yTop} box={TOP} ticks={TOP_Y_TICKS} yearBaseline={448} />
      <text transform={`translate(62,${(TOP.t + TOP.b) / 2}) rotate(-90)`} textAnchor="middle" fontSize={27} fill={TXT}>
        BrO column (x10<tspan dy={-11} fontSize={19}>13</tspan><tspan dy={11}> molec/cm</tspan>
        <tspan dy={-11} fontSize={19}>2</tspan><tspan dy={11}>)</tspan>
      </text>
      {/* legend top */}
      <g>
        <rect x={117} y={333} width={389} height={64} fill="#fff" stroke="#000" strokeWidth={1.3} />
        <path d={triLegend} transform="translate(168,352)" fill="#fff" stroke="#000" strokeWidth={1.3} />
        <circle cx={168} cy={379} r={3.6} fill={GREEN_FILL} stroke={GREEN} strokeWidth={1.4} />
        <text x={218} y={358} fontSize={20} fill={TXT}>GB</text>
        <text x={218} y={386} fontSize={20} fill={TXT}>GOME-2B (GDP4.8 product)</text>
      </g>

      {/* ---------- bottom panel ---------- */}
      <Frame yScale={yBot} box={BOT} ticks={BOT_Y_TICKS} zeroLine={true} />
      <g clipPath="url(#clipBot)">
        {diffPts.map((p, i) => (
          <circle key={'d' + i} cx={x(p.d)} cy={yBot(p.v)} r={4.2} fill="none" stroke={GREEN} strokeWidth={1.5} />
        ))}
      </g>
      <Axes yScale={yBot} box={BOT} ticks={BOT_Y_TICKS} yearBaseline={957} />
      <text transform={`translate(38,${(BOT.t + BOT.b) / 2}) rotate(-90)`} textAnchor="middle" fontSize={27} fill={TXT}>
        (GOME-2B - GB)/GB (%)
      </text>
      {/* legend bottom */}
      <g>
        <rect x={809} y={581} width={258} height={34} fill="#fff" stroke="#000" strokeWidth={1.3} />
        <circle cx={862} cy={597} r={3.6} fill="none" stroke={GREEN} strokeWidth={1.4} />
        <text x={913} y={605} fontSize={20} fill={TXT}>GOME-2B - GB</text>
      </g>
    </svg>
  );
}
